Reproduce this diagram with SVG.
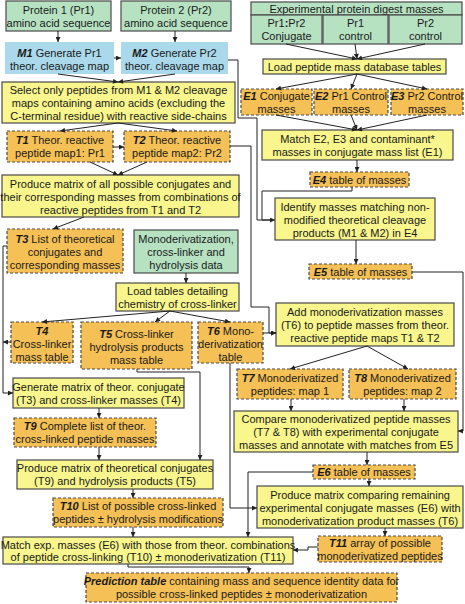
<svg xmlns="http://www.w3.org/2000/svg" width="465" height="604" viewBox="0 0 465 604">
<style>
text{font-family:"Liberation Sans",Arial,sans-serif;font-size:11px;fill:#1a1a1a;text-anchor:middle}
.b{font-weight:bold;font-style:italic}
.g{fill:#b6e2c2;stroke:#4a4a4a;stroke-width:1.2}
.m{fill:#a9d9ea;stroke:none}
.y{fill:#f8f68c;stroke:#4a4a4a;stroke-width:1.2}
.o{fill:#f5c055;stroke:#4a4a4a;stroke-width:1.2;stroke-dasharray:3 2}
.c path{fill:none;stroke:#222;stroke-width:1;marker-end:url(#a)}
.c path.n{marker-end:none}
</style>
<defs>
<marker id="a" viewBox="0 0 10 10" refX="10" refY="5" markerWidth="6" markerHeight="5" orient="auto" markerUnits="userSpaceOnUse"><path d="M0,0 L10,5 L0,10 z" fill="#222"/></marker>
</defs>
<rect width="465" height="604" fill="#fff"/>

<g id="p1"><rect class="g" x="6" y="1" width="105" height="30"/><text x="58.5" y="13.5">Protein 1 (Pr1)</text><text x="58.5" y="26.5">amino acid sequence</text></g>
<g id="p2"><rect class="g" x="121" y="1" width="110" height="30"/><text x="176" y="13.5">Protein 2 (Pr2)</text><text x="176" y="26.5">amino acid sequence</text></g>
<g id="exp"><rect class="g" x="251" y="2" width="211" height="13"/><text x="356.5" y="12.5">Experimental protein digest masses</text>
<rect class="g" x="251" y="15" width="71" height="29"/><text x="286.5" y="27">Pr1<tspan font-weight="bold">:</tspan>Pr2</text><text x="286.5" y="40">Conjugate</text>
<rect class="g" x="323" y="15" width="65" height="29"/><text x="355.5" y="27">Pr1</text><text x="355.5" y="40">control</text>
<rect class="g" x="389" y="15" width="73" height="29"/><text x="425.5" y="27">Pr2</text><text x="425.5" y="40">control</text></g>

<g id="m1"><rect class="m" x="5" y="42" width="109" height="32"/><text x="59.5" y="56.5"><tspan class="b">M1</tspan> Generate Pr1</text><text x="59.5" y="69.5">theor. cleavage map</text></g>
<g id="m2"><rect class="m" x="121" y="42" width="107" height="32"/><text x="174.5" y="56.5"><tspan class="b">M2</tspan> Generate Pr2</text><text x="174.5" y="69.5">theor. cleavage map</text></g>

<g id="loadpep"><rect class="y" x="263" y="59" width="183" height="15"/><text x="354.5" y="70.5">Load peptide mass database tables</text></g>
<g id="e1"><rect class="o" x="241" y="89" width="71" height="26"/><text x="276.5" y="100"><tspan class="b">E1</tspan> Conjugate</text><text x="276.5" y="112.5">masses</text></g>
<g id="e2"><rect class="o" x="314" y="89" width="74" height="26"/><text x="351" y="100"><tspan class="b">E2</tspan> Pr1 Control</text><text x="351" y="112.5">masses</text></g>
<g id="e3"><rect class="o" x="391" y="89" width="72" height="26"/><text x="427" y="100"><tspan class="b">E3</tspan> Pr2 Control</text><text x="427" y="112.5">masses</text></g>

<g id="select"><rect class="y" x="2" y="82" width="233" height="41"/><text x="118.5" y="94">Select only peptides from M1 &amp; M2 cleavage</text><text x="118.5" y="107">maps containing amino acids (excluding the</text><text x="118.5" y="120">C-terminal residue) with reactive side-chains</text></g>
<g id="match1"><rect class="y" x="262" y="130" width="191" height="30"/><text x="357.5" y="142.5">Match E2, E3 and contaminant*</text><text x="357.5" y="155.5">masses in conjugate mass list (E1)</text></g>
<g id="t1"><rect class="o" x="7" y="131" width="106" height="31"/><text x="60" y="143.5"><tspan class="b">T1</tspan> Theor. reactive</text><text x="60" y="156.5">peptide map1: Pr1</text></g>
<g id="t2"><rect class="o" x="124" y="131" width="106" height="31"/><text x="177" y="143.5"><tspan class="b">T2</tspan> Theor. reactive</text><text x="177" y="156.5">peptide map2: Pr2</text></g>
<g id="e4"><rect class="o" x="310" y="172" width="99" height="15"/><text x="359.5" y="183.5"><tspan class="b">E4</tspan> table of masses</text></g>
<g id="prodall"><rect class="y" x="2" y="175" width="237" height="42"/><text x="120.5" y="187.5">Produce matrix of all possible conjugates and</text><text x="120.5" y="200.5">their corresponding masses from combinations of</text><text x="120.5" y="213.5">reactive peptides from T1 and T2</text></g>
<g id="identify"><rect class="y" x="275" y="198" width="160" height="42"/><text x="355" y="210.5">Identify masses matching non-</text><text x="355" y="223.5">modified theoretical cleavage</text><text x="355" y="236.5">products (M1 &amp; M2) in E4</text></g>
<g id="t3"><rect class="o" x="7" y="229" width="116" height="44"/><text x="65" y="242.5"><tspan class="b">T3</tspan> List of theoretical</text><text x="65" y="255.5">conjugates and</text><text x="65" y="268.5">corresponding masses</text></g>
<g id="mono"><rect class="g" x="134" y="230" width="104" height="43"/><text x="186" y="243">Monoderivatization,</text><text x="186" y="256">cross-linker and</text><text x="186" y="269">hydrolysis data</text></g>
<g id="e5"><rect class="o" x="309" y="264" width="103" height="15"/><text x="360.5" y="275.5"><tspan class="b">E5</tspan> table of masses</text></g>
<g id="loadtab"><rect class="y" x="116" y="283" width="123" height="28"/><text x="177.5" y="294.5">Load tables detailing</text><text x="177.5" y="307.5">chemistry of cross-linker</text></g>
<g id="addmono"><rect class="y" x="276" y="303" width="178" height="43"/><text x="365" y="316">Add monoderivatization masses</text><text x="365" y="329">(T6) to peptide masses from theor.</text><text x="365" y="342">reactive peptide maps T1 &amp; T2</text></g>
<g id="t4"><rect class="o" x="11" y="322" width="62" height="41"/><text x="42" y="334.5" class="b">T4</text><text x="42" y="347.5">Cross-linker</text><text x="42" y="360.5">mass table</text></g>
<g id="t5"><rect class="o" x="81" y="322" width="111" height="47"/><text x="136.5" y="337.5"><tspan class="b">T5</tspan> Cross-linker</text><text x="136.5" y="350.5">hydrolysis products</text><text x="136.5" y="363.5">mass table</text></g>
<g id="t6"><rect class="o" x="198" y="322" width="65" height="41"/><text x="230.5" y="334.5"><tspan class="b">T6</tspan> Mono-</text><text x="230.5" y="347.5">derivatization</text><text x="230.5" y="360.5">table</text></g>
<g id="t7"><rect class="o" x="237" y="369" width="106" height="30"/><text x="290" y="381.5"><tspan class="b">T7</tspan> Monoderivatized</text><text x="290" y="394.5">peptides: map 1</text></g>
<g id="t8"><rect class="o" x="349" y="369" width="107" height="30"/><text x="402.5" y="381.5"><tspan class="b">T8</tspan> Monoderivatized</text><text x="402.5" y="394.5">peptides: map 2</text></g>
<g id="generate"><rect class="y" x="13" y="378" width="171" height="30"/><text x="98.5" y="390.5">Generate matrix of theor. conjugate</text><text x="98.5" y="403.5">(T3) and cross-linker masses (T4)</text></g>
<g id="compare"><rect class="y" x="234" y="411" width="224" height="41"/><text x="346" y="423">Compare monoderivatized peptide masses</text><text x="346" y="436">(T7 &amp; T8) with experimental conjugate</text><text x="346" y="449">masses and annotate with matches from E5</text></g>
<g id="t9"><rect class="o" x="14" y="418" width="142" height="29"/><text x="85" y="430"><tspan class="b">T9</tspan> Complete list of theor.</text><text x="85" y="443">cross-linked peptide masses</text></g>
<g id="prodtheo"><rect class="y" x="17" y="460" width="196" height="29"/><text x="115" y="472">Produce matrix of theoretical conjugates</text><text x="115" y="485">(T9) and hydrolysis products (T5)</text></g>
<g id="e6"><rect class="o" x="313" y="465" width="102" height="14"/><text x="364" y="476"><tspan class="b">E6</tspan> table of masses</text></g>
<g id="prodcomp"><rect class="y" x="257" y="486" width="206" height="42"/><text x="360" y="498.5">Produce matrix comparing remaining</text><text x="360" y="511.5">experimental conjugate masses (E6) with</text><text x="360" y="524.5">monoderivatization product masses (T6)</text></g>
<g id="t10"><rect class="o" x="53" y="498" width="170" height="29"/><text x="138" y="510"><tspan class="b">T10</tspan> List of possible cross-linked</text><text x="138" y="523">peptides ± hydrolysis modifications</text></g>
<g id="t11"><rect class="o" x="318" y="536" width="124" height="26"/><text x="380" y="547"><tspan class="b">T11</tspan> array of possible</text><text x="380" y="559.5">monoderivatized peptides</text></g>
<g id="matchexp"><rect class="y" x="3" y="537" width="290" height="27"/><text x="148" y="548.5">Match exp. masses (E6) with those from theor. combinations</text><text x="148" y="561">of peptide cross-linking (T10) ± monoderivatization (T11)</text></g>
<g id="pred"><rect class="o" x="86" y="573" width="311" height="29"/><text x="241.5" y="585"><tspan class="b">Prediction table</tspan> containing mass and sequence identity data for</text><text x="241.5" y="598">possible cross-linked peptides ± monoderivatization</text></g>

<g id="connectors" class="c">
<path d="M58,31 V42"/>
<path d="M175,31 V42"/>
<path d="M114,58 H121"/>
<path d="M228,60 H238 V118 H257 V220 H275"/>
<path class="n" d="M352,187 V191 H262 V220 H270"/>
<path d="M58,74 L118,82"/>
<path d="M175,74 L118,82"/>
<path d="M118,123 L60,131"/>
<path d="M118,123 L177,131"/>
<path d="M113,147 H124"/>
<path d="M90,162 L118,175"/>
<path d="M147,162 L118,175"/>
<path d="M84,217 L53,229"/>
<path d="M7,246 H3 V393 H13"/>
<path d="M11,342 H3"/>
<path d="M186,273 V283"/>
<path d="M170,311 L42,322"/>
<path d="M170,311 L155,322"/>
<path d="M170,311 L230,322"/>
<path d="M137,369 V372 H200 V460"/>
<path d="M230,363 V508 H257"/>
<path d="M99,408 V418"/>
<path d="M99,447 V460"/>
<path d="M133,489 V498"/>
<path d="M133,527 V537"/>
<path d="M128,564 V567 H249 V573"/>
<path d="M230,146 H251 V307 H269 V333 H276"/>
<path d="M263,333 H276"/>
<path d="M286,44 L357,59"/>
<path d="M355,44 L357,59"/>
<path d="M425,44 L357,59"/>
<path d="M357,74 L276,89"/>
<path d="M357,74 L351,89"/>
<path d="M357,74 L427,89"/>
<path d="M276,115 L357,130"/>
<path d="M351,115 L357,130"/>
<path d="M427,115 L357,130"/>
<path d="M357,160 V172"/>
<path d="M356,240 V264"/>
<path d="M412,272 H463 V431 H458"/>
<path d="M367,346 L290,369"/>
<path d="M367,346 L408,369"/>
<path d="M291,399 V411"/>
<path d="M404,399 V411"/>
<path d="M367,452 V465"/>
<path d="M369,479 V486"/>
<path d="M313,472 H248 V537"/>
<path d="M385,528 V536"/>
<path d="M318,547 H308 V550 H293"/>
</g>
</svg>
